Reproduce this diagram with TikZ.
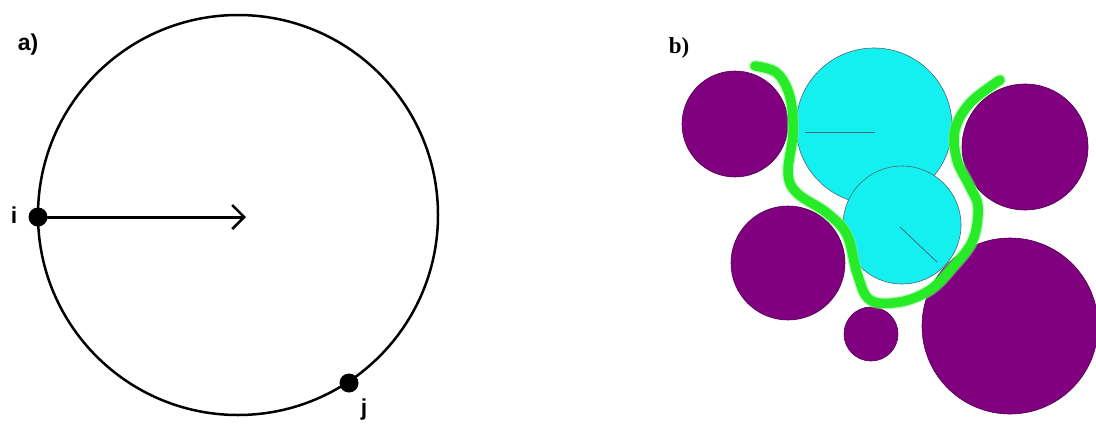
\documentclass[tikz,border=0pt]{standalone}
\usepackage{fontspec}
\setmainfont{Liberation Sans}
\newfontfamily\serifb{Liberation Serif}
\usetikzlibrary{arrows.meta}
\definecolor{purp}{RGB}{128,0,128}
\definecolor{cyn}{RGB}{20,240,240}
\definecolor{grn}{RGB}{40,235,40}
\tikzset{
  purpdisk/.style={fill=purp,draw=purp!60!black,line width=0.6pt},
  cyandisk/.style={fill=cyn,draw=cyan!40!black,line width=0.6pt},
  dot/.style={circle,fill=black,inner sep=0pt,minimum size=19pt},
  lbl/.style={font=\fontsize{23}{25}\selectfont\bfseries,inner sep=0pt},
  radius line/.style={draw=cyan!40!black,line width=0.8pt}
}
\begin{document}
\begin{tikzpicture}[x=1pt,y=-1pt]
\useasboundingbox (0,0) rectangle (1096,424);
% panel a
\node[lbl] (la) at (28,45) {a)};
\draw[line width=2.5pt] (238,215) circle (200);
\node[dot] (i) at (38,217) {};
\node[dot] (j) at (349,383) {};
\node[lbl] (li) at (14,215) {i};
\node[lbl] (lj) at (364,410) {j};
\coordinate (tip) at (246,217);
\draw[line width=3pt,-{Straight Barb[length=12pt,width=24pt,line width=2.5pt]}] (i.center) -- (tip);
% panel b
\node[lbl,font=\serifb\fontsize{23}{25}\selectfont\bfseries] (lb) at (679,48) {b)};
\path[purpdisk] (735,124) circle (53);
\path[purpdisk] (1025,147) circle (63);
\path[purpdisk] (788,263) circle (57);
\path[purpdisk] (871,334) circle (27);
\path[purpdisk] (1010,326) circle (88);
\path[cyandisk] (874,126) circle (78);
\path[cyandisk] (902,225) circle (59);
\draw[radius line] (805,132) -- (875,132);
\draw[radius line] (900,227) -- (937,262);
\draw[grn!60,line width=12pt,line cap=round,line join=round,opacity=0.5]
  plot[smooth,tension=0.6] coordinates {(755,66) (777,73) (790,97) (793,133) (788,173) (797,193) (827,213) (847,235) (857,273) (870,300) (900,302) (930,290) (953,267) (973,240) (978,207) (970,187) (957,160) (955,130) (970,103) (1000,80)};
\draw[grn,line width=9.5pt,line cap=round,line join=round]
  plot[smooth,tension=0.6] coordinates {(755,66) (777,73) (790,97) (793,133) (788,173) (797,193) (827,213) (847,235) (857,273) (870,300) (900,302) (930,290) (953,267) (973,240) (978,207) (970,187) (957,160) (955,130) (970,103) (1000,80)};
\end{tikzpicture}
\end{document}
